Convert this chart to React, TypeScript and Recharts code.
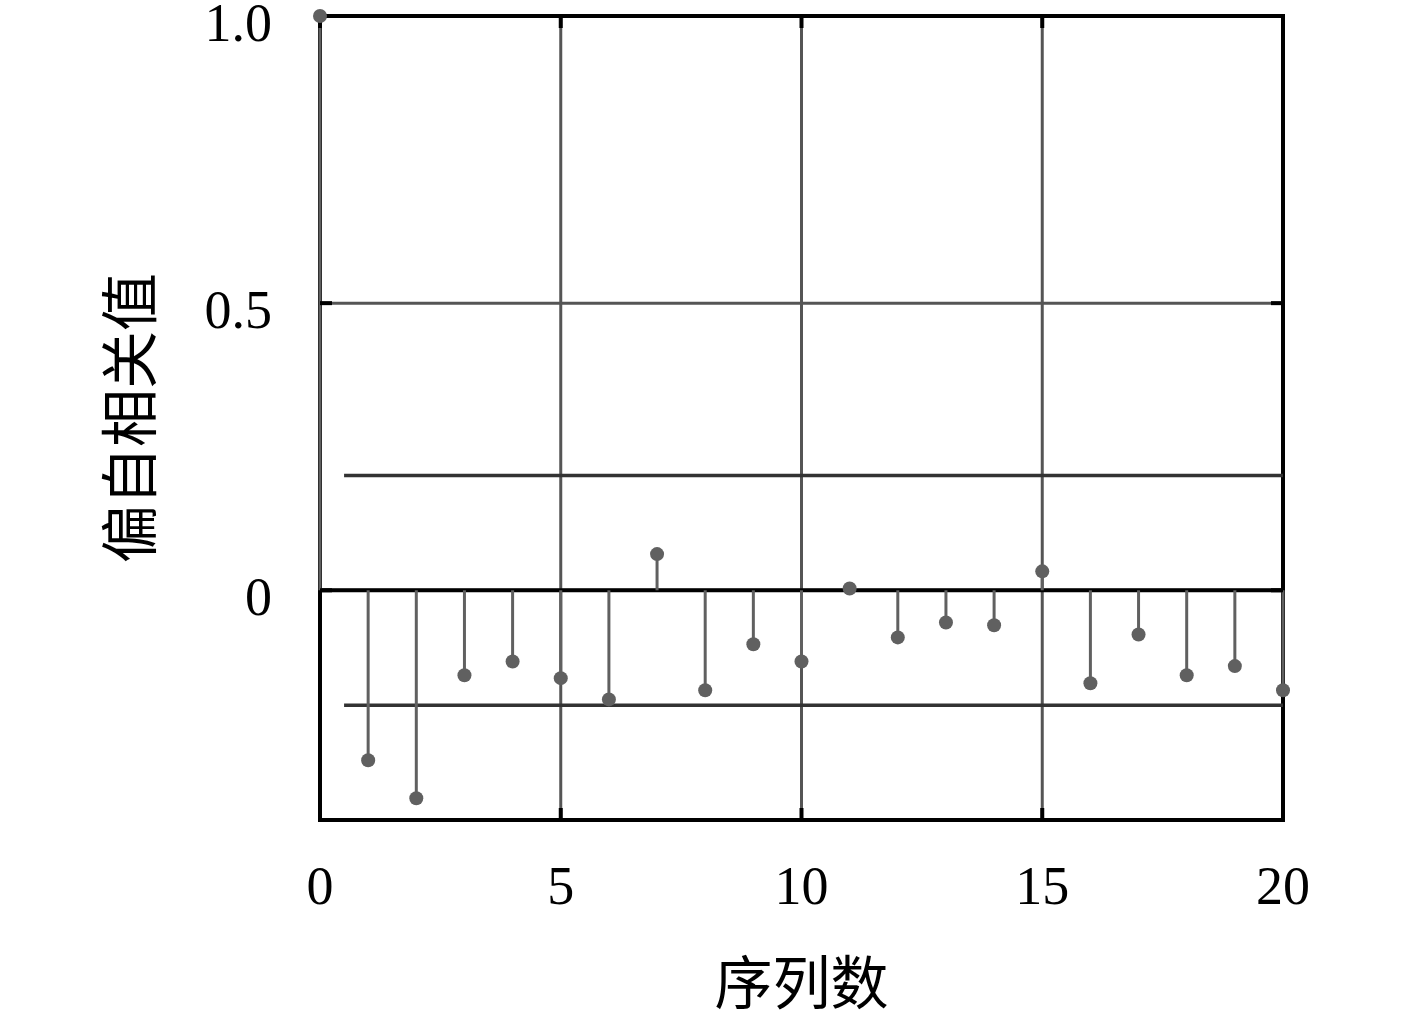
import {
  CartesianGrid,
  ErrorBar,
  ReferenceArea,
  ReferenceLine,
  Scatter,
  ScatterChart,
  XAxis,
  YAxis
} from "recharts";

// lag index and partial autocorrelation
const lags = [0, 1, 2, 3, 4, 5, 6, 7, 8, 9, 10, 11, 12, 13, 14, 15, 16, 17, 18, 19, 20];
const pacf = [
  1.0, -0.296, -0.362, -0.148, -0.124, -0.153, -0.19, 0.063, -0.174, -0.094, -0.124,
  0.003, -0.082, -0.056, -0.061, 0.033, -0.162, -0.077, -0.148, -0.132, -0.174
];

const xTicks = [0, 5, 10, 15, 20];
const yTicks = [0, 0.5, 1.0];
const yTickLabels: Record<number, string> = { 0: "0", 0.5: "0.5", 1: "1.0" };

// confidence band
const confBound = 0.2;
const bandStart = 0.5;

const xLabel = "序列数";
const yLabel = "偏自相关值";

const stemColor = "#606060";
const gridColor = "#555555";
const bandColor = "#333333";
const serif = "'Liberation Serif', 'DejaVu Serif', serif";
const cjk = "'Noto Sans CJK SC', sans-serif";
const innerTick = -12;
const tickStroke = { stroke: "#000", strokeWidth: 4 };

// stem = error bar running from the value back to zero
const data = lags.map((lag, i) => {
  const v = pacf[i];
  return { lag, value: v, stem: [v > 0 ? v : 0, v < 0 ? -v : 0] };
});

function Dot(props: any) {
  const { cx, cy } = props;
  return <circle cx={cx} cy={cy} r={7} fill={stemColor} />;
}

function YTick(props: any) {
  const { x, y, payload } = props;
  return (
    <text x={x} y={y} dy={25} textAnchor="end" fill="#000" fontSize={54} fontFamily={serif}>
      {yTickLabels[payload.value] ?? String(payload.value)}
    </text>
  );
}

function Empty() {
  return <g />;
}

export default function App() {
  return (
    <div style={{ position: "absolute", left: 0, top: 0, background: "#fff" }}>
      <ScatterChart
        width={1417}
        height={1018}
        margin={{ top: 15, right: 133, bottom: 0, left: 0 }}
      >
        <CartesianGrid stroke={gridColor} strokeWidth={3} />
        <XAxis
          type="number"
          dataKey="lag"
          domain={[0, 20]}
          ticks={xTicks}
          axisLine={false}
          tickLine={tickStroke}
          tickSize={innerTick}
          tickMargin={58}
          height={198}
          tick={{ fill: "#000", fontSize: 54, fontFamily: serif }}
          label={{
            value: xLabel,
            position: "insideBottom",
            offset: 14,
            style: { fontSize: 58, fontFamily: cjk, fill: "#000" }
          }}
        />
        <XAxis
          xAxisId="top"
          orientation="top"
          type="number"
          dataKey="lag"
          domain={[0, 20]}
          ticks={xTicks}
          axisLine={false}
          tickLine={tickStroke}
          tickSize={innerTick}
          tick={<Empty />}
          height={1}
        />
        <YAxis
          type="number"
          dataKey="value"
          domain={[-0.4, 1]}
          ticks={yTicks}
          axisLine={false}
          tickLine={tickStroke}
          tickSize={innerTick}
          tickMargin={60}
          width={320}
          tick={<YTick />}
          label={{
            value: yLabel,
            angle: -90,
            position: "insideLeft",
            offset: 130,
            style: { fontSize: 58, fontFamily: cjk, fill: "#000", textAnchor: "middle" }
          }}
        />
        <YAxis
          yAxisId="right"
          orientation="right"
          type="number"
          dataKey="value"
          domain={[-0.4, 1]}
          ticks={yTicks}
          axisLine={false}
          tickLine={tickStroke}
          tickSize={innerTick}
          tick={<Empty />}
          width={1}
        />
        <ReferenceArea x1={0} x2={20} y1={-0.4} y2={1} fill="none" stroke="#000" strokeWidth={4} />
        <ReferenceLine y={0} stroke="#000" strokeWidth={4} />
        <ReferenceLine
          segment={[{ x: bandStart, y: confBound }, { x: 20, y: confBound }]}
          stroke={bandColor}
          strokeWidth={3.5}
        />
        <ReferenceLine
          segment={[{ x: bandStart, y: -confBound }, { x: 20, y: -confBound }]}
          stroke={bandColor}
          strokeWidth={3.5}
        />
        {/* invisible copy so the top / right tick axes have data */}
        <Scatter
          data={data}
          xAxisId="top"
          yAxisId="right"
          shape={<Empty />}
          isAnimationActive={false}
          legendType="none"
        />
        <Scatter data={data} shape={<Dot />} isAnimationActive={false}>
          <ErrorBar
            dataKey="stem"
            direction="y"
            width={0}
            stroke={stemColor}
            strokeWidth={3}
            isAnimationActive={false}
          />
        </Scatter>
      </ScatterChart>
    </div>
  );
}
